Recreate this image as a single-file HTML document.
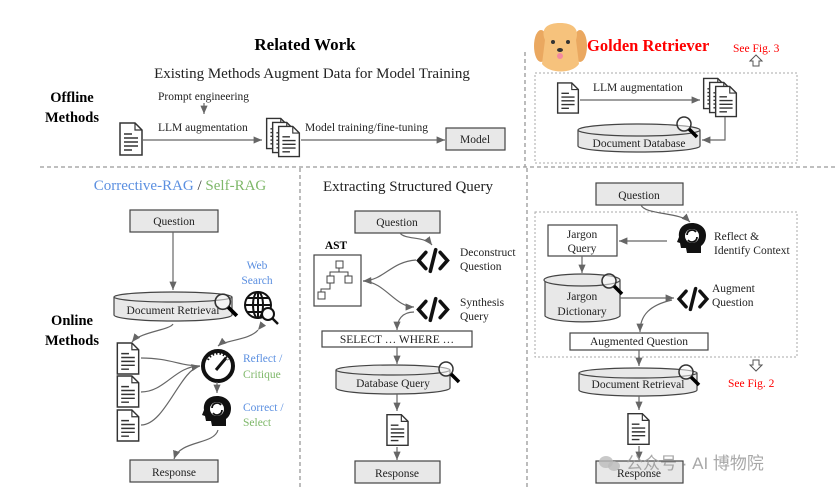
<!DOCTYPE html>
<html><head><meta charset="utf-8"><style>
html,body{margin:0;padding:0;background:#fff;}
svg{display:block;font-family:"Liberation Serif",serif;}
.t{font-size:11.5px;fill:#222;}
.b{font-weight:bold;fill:#000;}
.box{fill:#e8e8e8;stroke:#444;stroke-width:1.2;}
.wbox{fill:#fff;stroke:#444;stroke-width:1.2;}
.ln{fill:none;stroke:#666;stroke-width:1.2;}
.dash{stroke:#999;stroke-width:1.3;stroke-dasharray:4 3;fill:none;}
.dot{stroke:#aaa;stroke-width:1;stroke-dasharray:2 2;fill:none;}
.blue{fill:#5b8fe0;}.green{fill:#7fb86a;}.red{fill:#f00;}
</style></head><body>
<svg width="836" height="495" viewBox="0 0 836 495" xmlns="http://www.w3.org/2000/svg">
<defs>
<marker id="ar" markerWidth="8" markerHeight="8" refX="7" refY="4" orient="auto"><path d="M0,1 L7,4 L0,7z" fill="#666"/></marker>
<symbol id="doc" viewBox="0 0 24 34"><path d="M1,1 H16 L23,8 V33 H1z" fill="#fff" stroke="#333" stroke-width="1.5"/><path d="M16,1 V8 H23" fill="none" stroke="#333" stroke-width="1.2"/><path d="M5,12h8M5,16h14M5,20h14M5,24h14M5,28h8" stroke="#333" stroke-width="1.5"/></symbol>
<symbol id="stack" viewBox="0 0 36 40"><use href="#doc" x="0" y="0" width="24" height="32"/><use href="#doc" x="6" y="4" width="24" height="32"/><use href="#doc" x="12" y="8" width="24" height="32"/></symbol>
<symbol id="mag" viewBox="0 0 24 24"><circle cx="9" cy="9" r="7" fill="rgba(255,255,255,0.5)" stroke="#333" stroke-width="1.5"/><path d="M14,14 L22,22" stroke="#000" stroke-width="3.5"/></symbol>
<symbol id="code" viewBox="0 0 36 30"><path d="M10,6 L2,15 L10,24 M26,6 L34,15 L26,24 M21,3 L15,27" fill="none" stroke="#111" stroke-width="4" stroke-linecap="round"/></symbol>
<symbol id="head" viewBox="0 0 30 32"><path d="M15,1 C6,1 1,7 2,15 L0,20 L3,21 L4,26 L9,26 L10,31 L24,31 L24,24 C28,21 29,17 29,13 C29,6 23,1 15,1z" fill="#111"/><circle cx="15" cy="14" r="7" fill="#fff"/><path d="M10,13 a5,5 0 0 1 9,-3 M20,15 a5,5 0 0 1 -9,3" stroke="#111" stroke-width="1.8" fill="none"/></symbol>
</defs>

<line x1="40" y1="167" x2="836" y2="167" class="dash"/>
<line x1="300" y1="168" x2="300" y2="490" class="dash"/>
<line x1="527" y1="168" x2="527" y2="490" class="dash"/>
<line x1="525" y1="52" x2="525" y2="167" class="dash"/>

<text x="305" y="50" text-anchor="middle" class="b" style="font-size:17px">Related Work</text>
<text x="312" y="78" text-anchor="middle" class="t" style="font-size:15px">Existing Methods Augment Data for Model Training</text>
<text x="72" y="102" text-anchor="middle" class="b" style="font-size:14.5px">Offline</text>
<text x="72" y="122" text-anchor="middle" class="b" style="font-size:14.5px">Methods</text>
<text x="158" y="100" class="t">Prompt engineering</text>
<line x1="204" y1="103" x2="204" y2="114" class="ln" marker-end="url(#ar)"/>
<text x="158" y="131" class="t">LLM augmentation</text>
<use href="#doc" x="119" y="122" width="24" height="34"/>
<line x1="143" y1="140" x2="262" y2="140" class="ln" marker-end="url(#ar)"/>
<use href="#stack" x="265" y="117" width="36" height="41"/>
<text x="305" y="131" class="t">Model training/fine-tuning</text>
<line x1="301" y1="140" x2="445" y2="140" class="ln" marker-end="url(#ar)"/>
<rect x="446" y="128" width="59" height="22" class="box"/>
<text x="475" y="143" text-anchor="middle" class="t">Model</text>

<g>
<ellipse cx="541" cy="46" rx="7" ry="16" fill="#eaa860"/><ellipse cx="580" cy="46" rx="7" ry="16" fill="#eaa860"/>
<path d="M545,40 C540,28 548,23 560,23 C572,23 580,28 576,40 L579,64 C572,74 550,74 542,64z" fill="#f6c27c"/>
<circle cx="553" cy="42" r="2" fill="#333"/><circle cx="568" cy="42" r="2" fill="#333"/>
<ellipse cx="560" cy="50" rx="3" ry="2" fill="#333"/><ellipse cx="560" cy="56" rx="3" ry="3" fill="#f48aa0"/>
</g>
<text x="587" y="51" class="b" style="font-size:16.5px;fill:#f00">Golden Retriever</text>
<text x="733" y="52" class="red" style="font-size:11.5px">See Fig. 3</text>
<path d="M753,66 v-5 h-3 l6,-6 l6,6 h-3 v5z" fill="#fff" stroke="#555" stroke-width="1"/>
<rect x="535" y="73" width="262" height="90" class="dot"/>
<use href="#doc" x="556" y="82" width="24" height="32"/>
<text x="593" y="91" class="t">LLM augmentation</text>
<line x1="580" y1="100" x2="700" y2="100" class="ln" marker-end="url(#ar)"/>
<use href="#stack" x="702" y="77" width="36" height="41"/>
<path d="M725,117 V140 H702" class="ln" marker-end="url(#ar)"/>
<path d="M578,130 V146 A61,6 0 0 0 700,146 V130" fill="#e8e8e8" stroke="#444" stroke-width="1.2"/>
<ellipse cx="639" cy="130" rx="61" ry="6" fill="#e8e8e8" stroke="#444" stroke-width="1.2"/>
<text x="639" y="147" text-anchor="middle" class="t">Document Database</text>
<use href="#mag" x="675" y="115" width="24" height="24"/>

<text x="180" y="190" text-anchor="middle" style="font-size:15px"><tspan class="blue">Corrective-RAG</tspan><tspan fill="#333"> / </tspan><tspan class="green">Self-RAG</tspan></text>
<rect x="130" y="210" width="88" height="22" class="box"/>
<text x="174" y="225" text-anchor="middle" class="t">Question</text>
<line x1="173" y1="232" x2="173" y2="290" class="ln" marker-end="url(#ar)"/>
<path d="M114,297 V315 A59,6 0 0 0 232,315 V297" fill="#e8e8e8" stroke="#444" stroke-width="1.2"/>
<ellipse cx="173" cy="297" rx="59" ry="5" fill="#e8e8e8" stroke="#444" stroke-width="1.2"/>
<text x="173" y="314" text-anchor="middle" class="t">Document Retrieval</text>
<use href="#mag" x="213" y="292" width="26" height="26"/>
<text x="257" y="269" text-anchor="middle" class="blue" style="font-size:11.5px">Web</text>
<text x="257" y="284" text-anchor="middle" class="blue" style="font-size:11.5px">Search</text>
<g stroke="#111" stroke-width="2" fill="none"><circle cx="258" cy="305" r="13"/><ellipse cx="258" cy="305" rx="5" ry="13"/><line x1="245" y1="305" x2="271" y2="305"/><line x1="247" y1="298" x2="269" y2="298"/><line x1="247" y1="312" x2="269" y2="312"/><line x1="258" y1="292" x2="258" y2="318"/></g>
<circle cx="268" cy="314" r="6" fill="#fff" stroke="#111" stroke-width="2"/><line x1="272" y1="318" x2="278" y2="324" stroke="#111" stroke-width="2.5"/>
<text x="72" y="325" text-anchor="middle" class="b" style="font-size:14.5px">Online</text>
<text x="72" y="345" text-anchor="middle" class="b" style="font-size:14.5px">Methods</text>
<path d="M173,324 C170,330 140,332 132,342" class="ln" marker-end="url(#ar)"/>
<use href="#doc" x="116" y="342" width="24" height="33"/>
<use href="#doc" x="116" y="375" width="24" height="33"/>
<use href="#doc" x="116" y="409" width="24" height="33"/>
<path d="M141,358 C170,358 180,366 200,366 M141,392 C165,392 175,366 200,366 M141,425 C165,425 180,370 200,366" class="ln" marker-end="url(#ar)"/>
<path d="M258,330 C250,340 225,340 218,346" class="ln" marker-end="url(#ar)" marker-start="url(#ar)"/>
<circle cx="218" cy="366" r="15" fill="#fff" stroke="#111" stroke-width="4"/>
<path d="M208,360 a11,11 0 0 1 20,0" stroke="#111" stroke-width="2" stroke-dasharray="1.5 2" fill="none"/>
<line x1="216" y1="370" x2="226" y2="358" stroke="#111" stroke-width="3"/>
<text x="243" y="362" class="blue" style="font-size:11.5px">Reflect /</text>
<text x="243" y="378" class="green" style="font-size:11.5px">Critique</text>
<line x1="217" y1="382" x2="217" y2="393" class="ln" marker-end="url(#ar)"/>
<use href="#head" x="202" y="395" width="30" height="32"/>
<text x="243" y="411" class="blue" style="font-size:11.5px">Correct /</text>
<text x="243" y="426" class="green" style="font-size:11.5px">Select</text>
<path d="M218,430 C214,445 180,440 174,459" class="ln" marker-end="url(#ar)"/>
<rect x="130" y="460" width="88" height="22" class="box"/>
<text x="174" y="476" text-anchor="middle" class="t">Response</text>

<text x="323" y="191" class="t" style="font-size:15px">Extracting Structured Query</text>
<rect x="355" y="211" width="85" height="22" class="box"/>
<text x="397" y="226" text-anchor="middle" class="t">Question</text>
<path d="M400,233 C405,240 425,236 432,245" class="ln" marker-end="url(#ar)"/>
<text x="336" y="249" text-anchor="middle" class="b" style="font-size:11.5px">AST</text>
<rect x="314" y="255" width="47" height="51" class="wbox"/>
<g stroke="#444" stroke-width="1" fill="#fff"><rect x="336" y="261" width="7" height="7"/><rect x="327" y="276" width="7" height="7"/><rect x="345" y="276" width="7" height="7"/><rect x="318" y="292" width="7" height="7"/><path d="M339,268 v4 h-9 v4 M339,272 h9 v4 M330,283 v6 h-9 v3" fill="none"/></g>
<use href="#code" x="416" y="247" width="34" height="27"/>
<text x="460" y="256" class="t">Deconstruct</text>
<text x="460" y="270" class="t">Question</text>
<path d="M416,260 C390,262 385,280 363,281" class="ln" marker-end="url(#ar)"/>
<path d="M363,281 C385,282 395,307 414,307" class="ln" marker-end="url(#ar)"/>
<use href="#code" x="416" y="296" width="34" height="27"/>
<text x="460" y="306" class="t">Synthesis</text>
<text x="460" y="320" class="t">Query</text>
<path d="M414,312 C402,312 397,320 397,330" class="ln" marker-end="url(#ar)"/>
<rect x="322" y="331" width="150" height="16" class="wbox"/>
<text x="397" y="343" text-anchor="middle" class="t">SELECT … WHERE …</text>
<line x1="397" y1="347" x2="397" y2="364" class="ln" marker-end="url(#ar)"/>
<path d="M336,370 V388 A57,6 0 0 0 450,388 V370" fill="#e8e8e8" stroke="#444" stroke-width="1.2"/>
<ellipse cx="393" cy="370" rx="57" ry="5" fill="#e8e8e8" stroke="#444" stroke-width="1.2"/>
<text x="393" y="387" text-anchor="middle" class="t">Database Query</text>
<use href="#mag" x="437" y="360" width="24" height="24"/>
<line x1="397" y1="394" x2="397" y2="411" class="ln" marker-end="url(#ar)"/>
<use href="#doc" x="386" y="413" width="23" height="34"/>
<line x1="397" y1="447" x2="397" y2="460" class="ln" marker-end="url(#ar)"/>
<rect x="355" y="461" width="85" height="22" class="box"/>
<text x="397" y="477" text-anchor="middle" class="t">Response</text>

<rect x="596" y="183" width="87" height="22" class="box"/>
<text x="639" y="199" text-anchor="middle" class="t">Question</text>
<rect x="535" y="212" width="262" height="145" class="dot"/>
<path d="M641,205 C645,215 680,212 690,222" class="ln" marker-end="url(#ar)"/>
<rect x="548" y="225" width="69" height="31" class="wbox"/>
<text x="582" y="238" text-anchor="middle" class="t">Jargon</text>
<text x="582" y="252" text-anchor="middle" class="t">Query</text>
<use href="#head" x="677" y="222" width="30" height="32"/>
<line x1="667" y1="241" x2="619" y2="241" class="ln" marker-end="url(#ar)"/>
<text x="714" y="240" class="t">Reflect &amp;</text>
<text x="714" y="254" class="t">Identify Context</text>
<line x1="582" y1="256" x2="582" y2="273" class="ln" marker-end="url(#ar)"/>
<path d="M545,280 V316 A38,7 0 0 0 620,316 V280" fill="#e8e8e8" stroke="#444" stroke-width="1.2"/>
<ellipse cx="582" cy="280" rx="38" ry="6" fill="#e8e8e8" stroke="#444" stroke-width="1.2"/>
<text x="582" y="300" text-anchor="middle" class="t">Jargon</text>
<text x="582" y="315" text-anchor="middle" class="t">Dictionary</text>
<use href="#mag" x="600" y="272" width="24" height="24"/>
<line x1="620" y1="298" x2="674" y2="298" class="ln" marker-end="url(#ar)"/>
<use href="#code" x="676" y="286" width="34" height="26"/>
<text x="712" y="292" class="t">Augment</text>
<text x="712" y="306" class="t">Question</text>
<path d="M672,300 C650,305 640,315 640,332" class="ln" marker-end="url(#ar)"/>
<rect x="570" y="333" width="138" height="17" class="wbox"/>
<text x="639" y="345" text-anchor="middle" class="t">Augmented Question</text>
<path d="M753,360 v5 h-3 l6,6 l6,-6 h-3 v-5z" fill="#fff" stroke="#555" stroke-width="1"/>
<text x="728" y="387" class="red" style="font-size:11.5px">See Fig. 2</text>
<line x1="639" y1="350" x2="639" y2="366" class="ln" marker-end="url(#ar)"/>
<path d="M579,373 V390 A59,6 0 0 0 697,390 V373" fill="#e8e8e8" stroke="#444" stroke-width="1.2"/>
<ellipse cx="638" cy="373" rx="59" ry="5" fill="#e8e8e8" stroke="#444" stroke-width="1.2"/>
<text x="638" y="388" text-anchor="middle" class="t">Document Retrieval</text>
<use href="#mag" x="677" y="363" width="24" height="24"/>
<line x1="639" y1="396" x2="639" y2="410" class="ln" marker-end="url(#ar)"/>
<use href="#doc" x="627" y="412" width="23" height="34"/>
<line x1="639" y1="446" x2="639" y2="460" class="ln" marker-end="url(#ar)"/>
<rect x="596" y="461" width="87" height="22" class="box"/>
<text x="639" y="477" text-anchor="middle" class="t">Response</text>
<ellipse cx="606" cy="462" rx="7" ry="6" fill="#bbb" opacity="0.8"/><ellipse cx="614" cy="466" rx="6" ry="5" fill="#bbb" opacity="0.8"/>
<text x="626" y="469" font-family="'Liberation Sans','Noto Sans CJK SC',sans-serif" style="font-size:17px" fill="#999" opacity="0.85">公众号 · AI 博物院</text>
</svg>
</body></html>
